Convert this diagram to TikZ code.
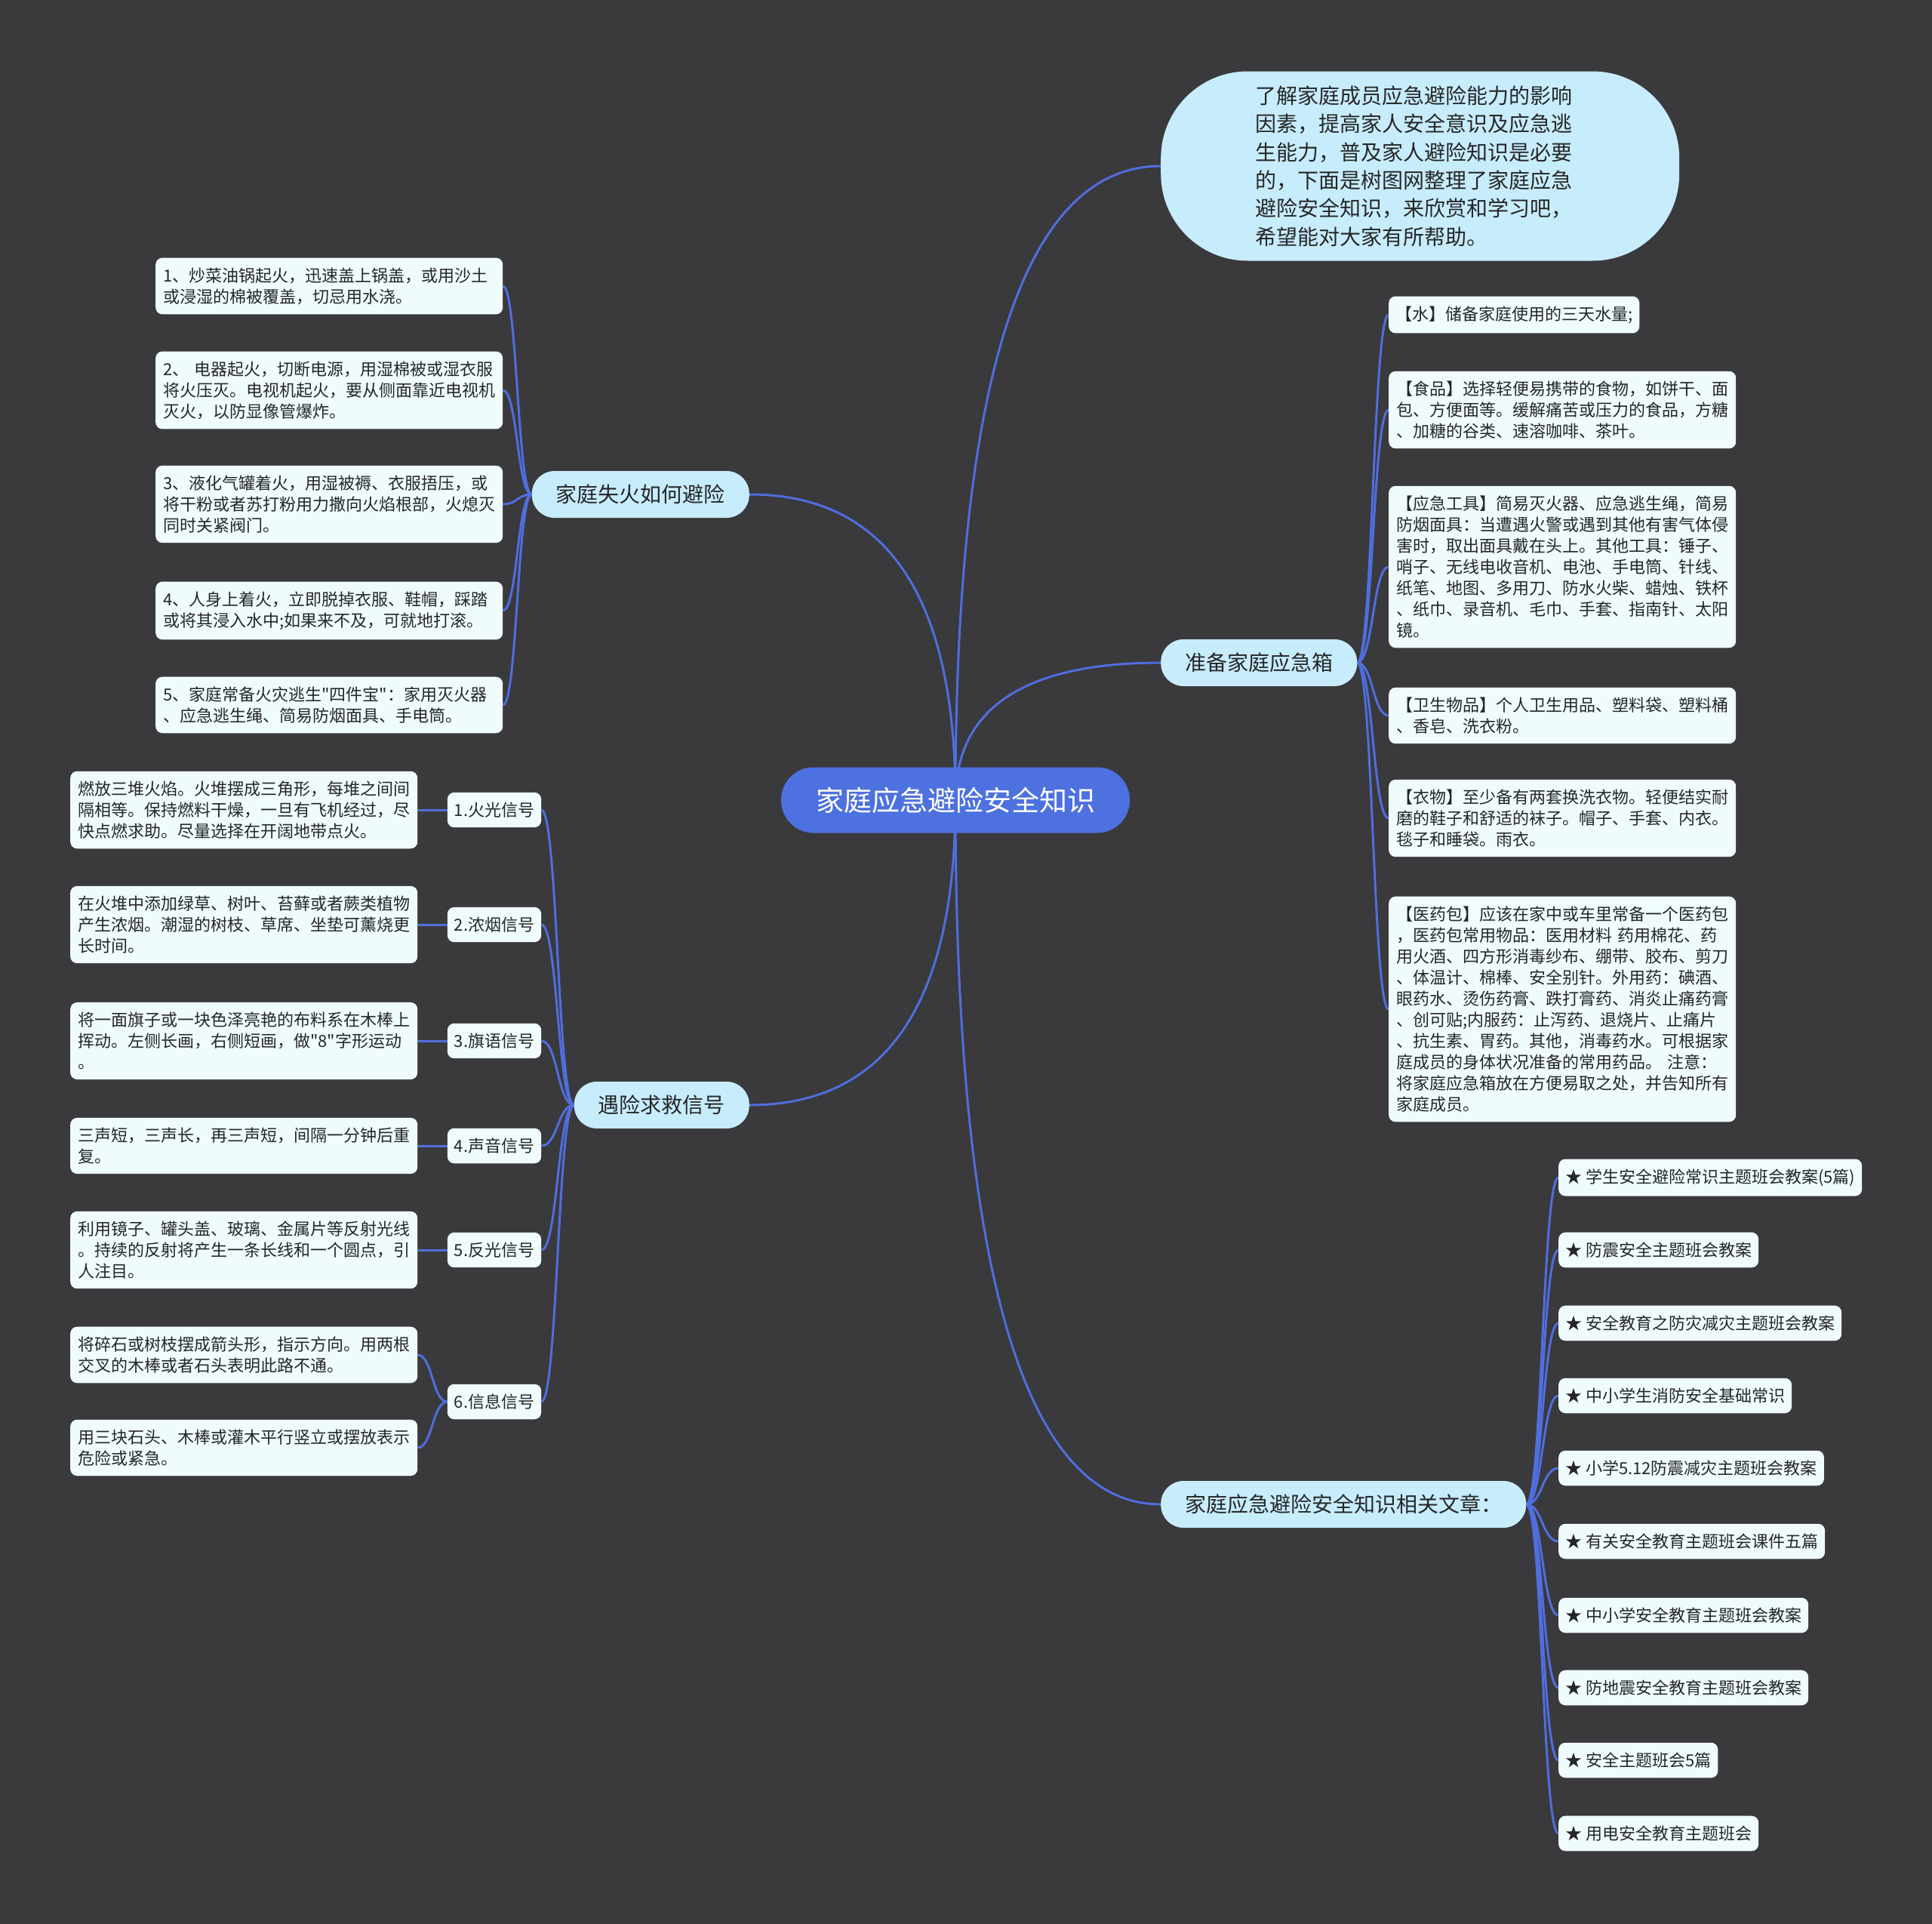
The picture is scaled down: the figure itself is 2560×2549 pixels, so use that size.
\documentclass[tikz,border=0pt]{standalone}
\usepackage{fontspec}
\newfontfamily\cjk{Noto Sans CJK SC}
\usetikzlibrary{calc}
\definecolor{bgc}{RGB}{58,57,60}
\definecolor{linkc}{RGB}{80,110,222}
\definecolor{rootc}{RGB}{78,113,224}
\definecolor{branchc}{RGB}{199,236,252}
\definecolor{leafc}{RGB}{239,251,253}
\definecolor{textc}{RGB}{38,38,38}
\pgfdeclarelayer{back}
\pgfdeclarelayer{links}
\pgfsetlayers{back,links,main}
\newcommand\rootfnt{\cjk\fontsize{37}{44}\selectfont}
\newcommand\branchfnt{\cjk\fontsize{28}{34}\selectfont}
\newcommand\introfnt{\cjk\fontsize{28}{37.4}\selectfont}
\newcommand\leaffnt{\cjk\fontsize{22}{28}\selectfont}
\newcommand\mainlink[2]{\draw[link] let \p1=(#1), \p2=(#2) in (\p1) .. controls (\x1,{\y1+2*(\y2-\y1)/3}) and ({\x2+2*(\x1-\x2)/3},\y2) .. (\p2);}
\newcommand\leaflink[2]{\draw[link] let \p1=(#1), \p2=(#2) in (\p1) .. controls ({(\x1+\x2)/2},\y1) and ({(\x1+\x2)/2},\y2) .. (\p2);}
\tikzset{
  link/.style={draw=linkc, line width=3pt},
  rootbox/.style={fill=rootc, text=white, rounded corners=43pt, minimum width=462pt, minimum height=87pt, inner sep=0pt, font=\rootfnt},
  introbox/.style={fill=branchc, text=textc, rounded corners=115pt, minimum width=687pt, minimum height=251pt, text width=436pt, align=left, inner sep=0pt, font=\introfnt},
  branchbox/.style={fill=branchc, text=textc, rounded corners=30pt, minimum height=62pt, inner xsep=32pt, inner ysep=0pt, font=\branchfnt},
  leafbox/.style={fill=leafc, text=textc, rounded corners=9pt, inner xsep=10pt, inner ysep=13pt, text width=440pt, align=left, anchor=west, font=\leaffnt},
  tagbox/.style={fill=leafc, text=textc, rounded corners=9pt, inner xsep=9pt, inner ysep=13pt, anchor=west, font=\leaffnt}
}
\begin{document}
\begin{tikzpicture}[x=1pt,y=-1pt]
\begin{pgfonlayer}{back}
\fill[bgc] (0,0) rectangle (2560,2549);
\end{pgfonlayer}
\useasboundingbox (0,0) rectangle (2560,2549);

% root and main branches
\node[rootbox] (root) at (1266,1060) {家庭应急避险安全知识};
\node[introbox, anchor=west] (intro) at (1538,220) {了解家庭成员应急避险能力的影响\\因素，提高家人安全意识及应急逃\\生能力，普及家人避险知识是必要\\的，下面是树图网整理了家庭应急\\避险安全知识，来欣赏和学习吧，\\希望能对大家有所帮助。};
\node[branchbox, anchor=west] (prep) at (1538,878) {准备家庭应急箱};
\node[branchbox, anchor=west] (arts) at (1538,1993) {家庭应急避险安全知识相关文章：};
\node[branchbox, anchor=east] (fire) at (993,655) {家庭失火如何避险};
\node[branchbox, anchor=east] (sos) at (993,1464) {遇险求救信号};

% prep leaves
\node[tagbox] (p1) at (1840,417) {【水】储备家庭使用的三天水量;};
\node[leafbox] (p2) at (1840,543) {【食品】选择轻便易携带的食物，如饼干、面\\包、方便面等。缓解痛苦或压力的食品，方糖\\、加糖的谷类、速溶咖啡、茶叶。};
\node[leafbox] (p3) at (1840,751) {【应急工具】简易灭火器、应急逃生绳，简易\\防烟面具：当遭遇火警或遇到其他有害气体侵\\害时，取出面具戴在头上。其他工具：锤子、\\哨子、无线电收音机、电池、手电筒、针线、\\纸笔、地图、多用刀、防水火柴、蜡烛、铁杯\\、纸巾、录音机、毛巾、手套、指南针、太阳\\镜。};
\node[leafbox] (p4) at (1840,948) {【卫生物品】个人卫生用品、塑料袋、塑料桶\\、香皂、洗衣粉。};
\node[leafbox] (p5) at (1840,1084) {【衣物】至少备有两套换洗衣物。轻便结实耐\\磨的鞋子和舒适的袜子。帽子、手套、内衣。\\毯子和睡袋。雨衣。};
\node[leafbox] (p6) at (1840,1337) {【医药包】应该在家中或车里常备一个医药包\\，医药包常用物品：医用材料 药用棉花、药\\用火酒、四方形消毒纱布、绷带、胶布、剪刀\\、体温计、棉棒、安全别针。外用药：碘酒、\\眼药水、烫伤药膏、跌打膏药、消炎止痛药膏\\、创可贴;内服药：止泻药、退烧片、止痛片\\、抗生素、胃药。其他，消毒药水。可根据家\\庭成员的身体状况准备的常用药品。 注意：\\将家庭应急箱放在方便易取之处，并告知所有\\家庭成员。};

% article leaves
\node[tagbox] (a1) at (2065,1560) {★ 学生安全避险常识主题班会教案(5篇)};
\node[tagbox] (a2) at (2065,1656) {★ 防震安全主题班会教案};
\node[tagbox] (a3) at (2065,1753) {★ 安全教育之防灾减灾主题班会教案};
\node[tagbox] (a4) at (2065,1849) {★ 中小学生消防安全基础常识};
\node[tagbox] (a5) at (2065,1945) {★ 小学5.12防震减灾主题班会教案};
\node[tagbox] (a6) at (2065,2042) {★ 有关安全教育主题班会课件五篇};
\node[tagbox] (a7) at (2065,2140) {★ 中小学安全教育主题班会教案};
\node[tagbox] (a8) at (2065,2236) {★ 防地震安全教育主题班会教案};
\node[tagbox] (a9) at (2065,2332) {★ 安全主题班会5篇};
\node[tagbox] (a10) at (2065,2429) {★ 用电安全教育主题班会};

% fire leaves
\node[leafbox] (f1) at (206,379) {1、炒菜油锅起火，迅速盖上锅盖，或用沙土\\或浸湿的棉被覆盖，切忌用水浇。};
\node[leafbox] (f2) at (206,517) {2、 电器起火，切断电源，用湿棉被或湿衣服\\将火压灭。电视机起火，要从侧面靠近电视机\\灭火，以防显像管爆炸。};
\node[leafbox] (f3) at (206,668) {3、液化气罐着火，用湿被褥、衣服捂压，或\\将干粉或者苏打粉用力撒向火焰根部，火熄灭\\同时关紧阀门。};
\node[leafbox] (f4) at (206,809) {4、人身上着火，立即脱掉衣服、鞋帽，踩踏\\或将其浸入水中;如果来不及，可就地打滚。};
\node[leafbox] (f5) at (206,934) {5、家庭常备火灾逃生"四件宝"：家用灭火器\\、应急逃生绳、简易防烟面具、手电筒。};

% signal sub nodes
\node[tagbox, anchor=center] (g1) at (655,1073) {1.火光信号};
\node[tagbox, anchor=center] (g2) at (655,1225) {2.浓烟信号};
\node[tagbox, anchor=center] (g3) at (655,1379) {3.旗语信号};
\node[tagbox, anchor=center] (g4) at (655,1518) {4.声音信号};
\node[tagbox, anchor=center] (g5) at (655,1656) {5.反光信号};
\node[tagbox, anchor=center] (g6) at (655,1857) {6.信息信号};

% signal leaves
\node[leafbox] (s1) at (93,1073) {燃放三堆火焰。火堆摆成三角形，每堆之间间\\隔相等。保持燃料干燥，一旦有飞机经过，尽\\快点燃求助。尽量选择在开阔地带点火。};
\node[leafbox] (s2) at (93,1225) {在火堆中添加绿草、树叶、苔藓或者蕨类植物\\产生浓烟。潮湿的树枝、草席、坐垫可薰烧更\\长时间。};
\node[leafbox] (s3) at (93,1379) {将一面旗子或一块色泽亮艳的布料系在木棒上\\挥动。左侧长画，右侧短画，做"8"字形运动\\。};
\node[leafbox] (s4) at (93,1518) {三声短，三声长，再三声短，间隔一分钟后重\\复。};
\node[leafbox] (s5) at (93,1656) {利用镜子、罐头盖、玻璃、金属片等反射光线\\。持续的反射将产生一条长线和一个圆点，引\\人注目。};
\node[leafbox] (s6) at (93,1795) {将碎石或树枝摆成箭头形，指示方向。用两根\\交叉的木棒或者石头表明此路不通。};
\node[leafbox] (s7) at (93,1918) {用三块石头、木棒或灌木平行竖立或摆放表示\\危险或紧急。};

\begin{pgfonlayer}{links}
\mainlink{root.center}{intro.west}
\mainlink{root.center}{prep.west}
\mainlink{root.center}{arts.west}
\mainlink{root.center}{fire.east}
\mainlink{root.center}{sos.east}
\foreach \i in {1,...,6} {\leaflink{prep.east}{p\i.west}}
\foreach \i in {1,...,10} {\leaflink{arts.east}{a\i.west}}
\foreach \i in {1,...,5} {\leaflink{fire.west}{f\i.east}}
\foreach \i in {1,...,6} {\leaflink{sos.west}{g\i.east}}
\foreach \i in {1,...,5} {\leaflink{g\i.west}{s\i.east}}
\leaflink{g6.west}{s6.east}
\leaflink{g6.west}{s7.east}
\end{pgfonlayer}
\end{tikzpicture}
\end{document}
